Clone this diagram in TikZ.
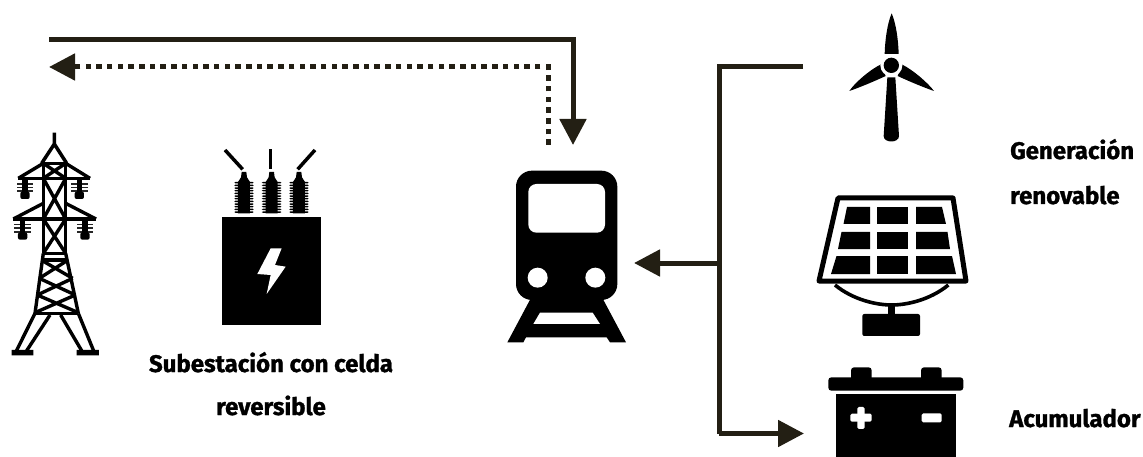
\documentclass[tikz,border=0pt]{standalone}
\usepackage{fontspec}
\setmainfont{Fira Sans}[BoldFeatures={FakeBold=1.2}]
\usetikzlibrary{arrows.meta,calc}
\definecolor{wireink}{HTML}{231F14}
\tikzset{
  wire/.style={draw=wireink,line width=5pt,line join=miter},
  dotwire/.style={wire,dash pattern=on 5.5pt off 5.2pt},
  bighead/.style={-{Triangle[length=26pt,width=26pt,color=wireink]}},
  caption/.style={inner sep=0pt,anchor=base,font=\fontsize{24}{24}\selectfont\bfseries,text=black},
  captionl/.style={caption,anchor=base west},
  zoomA/.style={x=0.33333pt,y=-0.33333pt,shift={(0pt,-120pt)}},
  zoomB/.style={x=0.33333pt,y=-0.33333pt,shift={(490pt,-20pt)}},
  zoomC/.style={x=0.33333pt,y=-0.33333pt,shift={(800pt,0pt)}},
  zoomD/.style={x=0.33333pt,y=-0.33333pt,shift={(800pt,-230pt)}},
  tw/.style={draw=black,line width=3.4pt,line join=round},
}
\begin{document}
\begin{tikzpicture}[x=1pt,y=-1pt]
\useasboundingbox (0,0) rectangle (1143,457);
% ---------- connectors
\coordinate (gridA) at (49,40);
\coordinate (cornerA) at (573,40);
\coordinate (trainTop) at (573,145);
\coordinate (gridB) at (49,67);
\coordinate (cornerB) at (548,67);
\coordinate (trainTopB) at (548,145);
\coordinate (windEnd) at (803,66.5);
\coordinate (busTop) at (719,66.5);
\coordinate (busMid) at (719,263);
\coordinate (trainSide) at (634,263);
\coordinate (busBot) at (719,433.5);
\coordinate (batEnd) at (804,433.5);
\draw[wire,bighead] (gridA) -- (cornerA) -- (trainTop);
\draw[dotwire] (trainTopB) -- (cornerB) -- ($(gridB)+(22,0)$);
\draw[wire,bighead] ($(gridB)+(24,0)$) -- (gridB);
\draw[wire] (windEnd) -- (busTop) -- (busBot);
\draw[wire,bighead] (busBot) -- (batEnd);
\draw[wire,bighead] (busMid) -- (trainSide);
% ---------- tower
\begin{scope}[zoomA]
  \draw[tw,line width=3.5pt] (163,38) -- (163,72) (163,72) -- (125,130) (163,72) -- (200,130);
  \draw[tw] (130,130) -- (197,130) (130,130) -- (130,400) (197,130) -- (197,400);
  \draw[tw] (55,175) -- (270,175) (40,297) -- (288,297);
  \draw[tw] (130,130) -- (55,175) (197,130) -- (270,175);
  \draw[tw] (130,250) -- (40,297) (197,250) -- (288,297);
  \draw[tw] (130,130) -- (197,175) (197,130) -- (130,175);
  \draw[tw] (130,175) -- (197,297) (197,175) -- (130,297);
  \draw[tw] (130,297) -- (197,400) (197,297) -- (130,400);
  \draw[tw] (130,400) -- (197,400) (128,420) -- (200,420);
  \draw[tw] (130,400) -- (105,580) (197,400) -- (235,580);
  \draw[tw] (105,580) -- (235,580);
  \draw[tw] (127,422) -- (218,475) (201,422) -- (118,475);
  \draw[tw] (118,475) -- (226,525) (218,475) -- (112,525);
  \draw[tw] (112,525) -- (235,578) (226,525) -- (105,578);
  \draw[tw] (105,580) -- (48,695) (150,585) -- (80,692);
  \draw[tw] (235,580) -- (282,695) (182,585) -- (245,692);
  \fill (35,690) rectangle (100,706) (230,690) rectangle (297,706);
  \foreach \ix/\iy in {75/180,238/180,68/302,255/302}{
    \foreach \k in {0,1,2}{\fill[black!85] (\ix-25,\iy+9+\k*11) rectangle (\ix+25,\iy+14+\k*11);}
    \fill[rounded corners=2pt] (\ix-14,\iy+35) rectangle (\ix+14,\iy+57);
    \fill (\ix-8,\iy) rectangle (\ix+8,\iy+38);
  }
\end{scope}
% ---------- transformer
\begin{scope}[zoomA]
  \fill (667,292) rectangle (962,614);
  \fill[white] (812,385) -- (845,385) -- (825,435) -- (857,440) -- (800,522) -- (812,465) -- (772,462) -- cycle;
  \draw[black,line width=3.5pt] (675,90) -- (728,148);
  \draw[black,line width=3.5pt] (812,88) -- (812,148);
  \draw[black,line width=3.5pt] (945,90) -- (893,148);
  \foreach \bx in {732,815,897}{
    \fill (\bx-7,156) -- (\bx+7,156) -- (\bx+9,172) -- (\bx+18,186) -- (\bx+18,280) -- (\bx-18,280) -- (\bx-18,186) -- (\bx-9,172) -- cycle;
    \foreach \r in {0,...,11}{\fill[rounded corners=1pt] (\bx-29,186+\r*8) rectangle (\bx+29,190.5+\r*8);}
  }
\end{scope}
% ---------- train
\begin{scope}[zoomB]
  \fill (125,830) -- (335,830) -- (408,967) -- (360,967) -- (350,952) -- (108,952) -- (100,967) -- (52,967) -- cycle;
  \fill[white] (150,878) -- (308,878) -- (330,912) -- (130,912) -- cycle;
  \fill[rounded corners=16pt] (78,452) rectangle (382,840);
  \fill[white,rounded corners=8pt] (115,492) rectangle (345,638);
  \fill[white] (143,773) circle[radius=30] (316,773) circle[radius=30];
\end{scope}
% ---------- wind turbine
\begin{scope}[zoomC]
  \fill (275,40) .. controls (288,70) and (295,120) .. (296,162) -- (254,162) .. controls (255,120) and (262,70) .. (275,40) -- cycle;
  \fill (305,193) .. controls (340,210) and (385,250) .. (402,273) .. controls (370,262) and (325,243) .. (293,228) -- cycle;
  \fill (243,193) .. controls (208,210) and (163,250) .. (148,273) .. controls (180,262) and (225,243) .. (257,228) -- cycle;
  \fill (262,232) -- (286,232) -- (297,408) .. controls (297,430) and (251,430) .. (251,408) -- cycle;
  \fill[white] (274,196) circle[radius=33];
  \fill (274,196) circle[radius=23];
\end{scope}
% ---------- solar panel
\begin{scope}[x=1pt,y=-1pt]
  \draw[black,line width=5pt,line join=round] (838,198) -- (953,198) -- (966,281) -- (819,281) -- cycle;
  \fill (847,207) -- (870,207) -- (870,224) -- (843.5,224) -- cycle;
  \fill (877,207) rectangle (908,224);
  \fill (916,207) -- (942,207) -- (946,224) -- (916,224) -- cycle;
  \fill (841.5,232) -- (870,232) -- (870,249) -- (838,249) -- cycle;
  \fill (877,232) rectangle (908,249);
  \fill (916,232) -- (947.5,232) -- (950,249) -- (916,249) -- cycle;
  \fill (836.5,256) -- (870,256) -- (870,274) -- (831,274) -- cycle;
  \fill (877,256) rectangle (908,274);
  \fill (916,256) -- (952,256) -- (956,274) -- (916,274) -- cycle;
\end{scope}
\begin{scope}[zoomD]
  \draw[black,line width=3.6pt] (105,165) .. controls (160,210) and (230,225) .. (275,225) .. controls (320,225) and (390,210) .. (445,165);
  \fill (265,222) rectangle (285,256);
  \fill[rounded corners=2pt] (187,252) rectangle (360,318);
% ---------- battery
  \fill[rounded corners=3pt] (153,412) rectangle (215,460);
  \fill[rounded corners=3pt] (363,412) rectangle (425,460);
  \fill[rounded corners=3pt] (85,442) rectangle (490,482);
  \fill (107,492) rectangle (468,690);
  \fill[white,rounded corners=1.5pt] (172,531) rectangle (194,597);
  \fill[white,rounded corners=1.5pt] (151,551) rectangle (215,575);
  \fill[white,rounded corners=1.5pt] (365,550) rectangle (425,577);
\end{scope}
% ---------- captions
\node[caption] (subA) at (271,372) {Subestación con celda};
\node[caption] (subB) at (271,415) {reversible};
\node[captionl] (genA) at (1010,159) {Generación};
\node[captionl] (genB) at (1010,204) {renovable};
\node[captionl] (acu) at (1009,427) {Acumulador};
\end{tikzpicture}
\end{document}
